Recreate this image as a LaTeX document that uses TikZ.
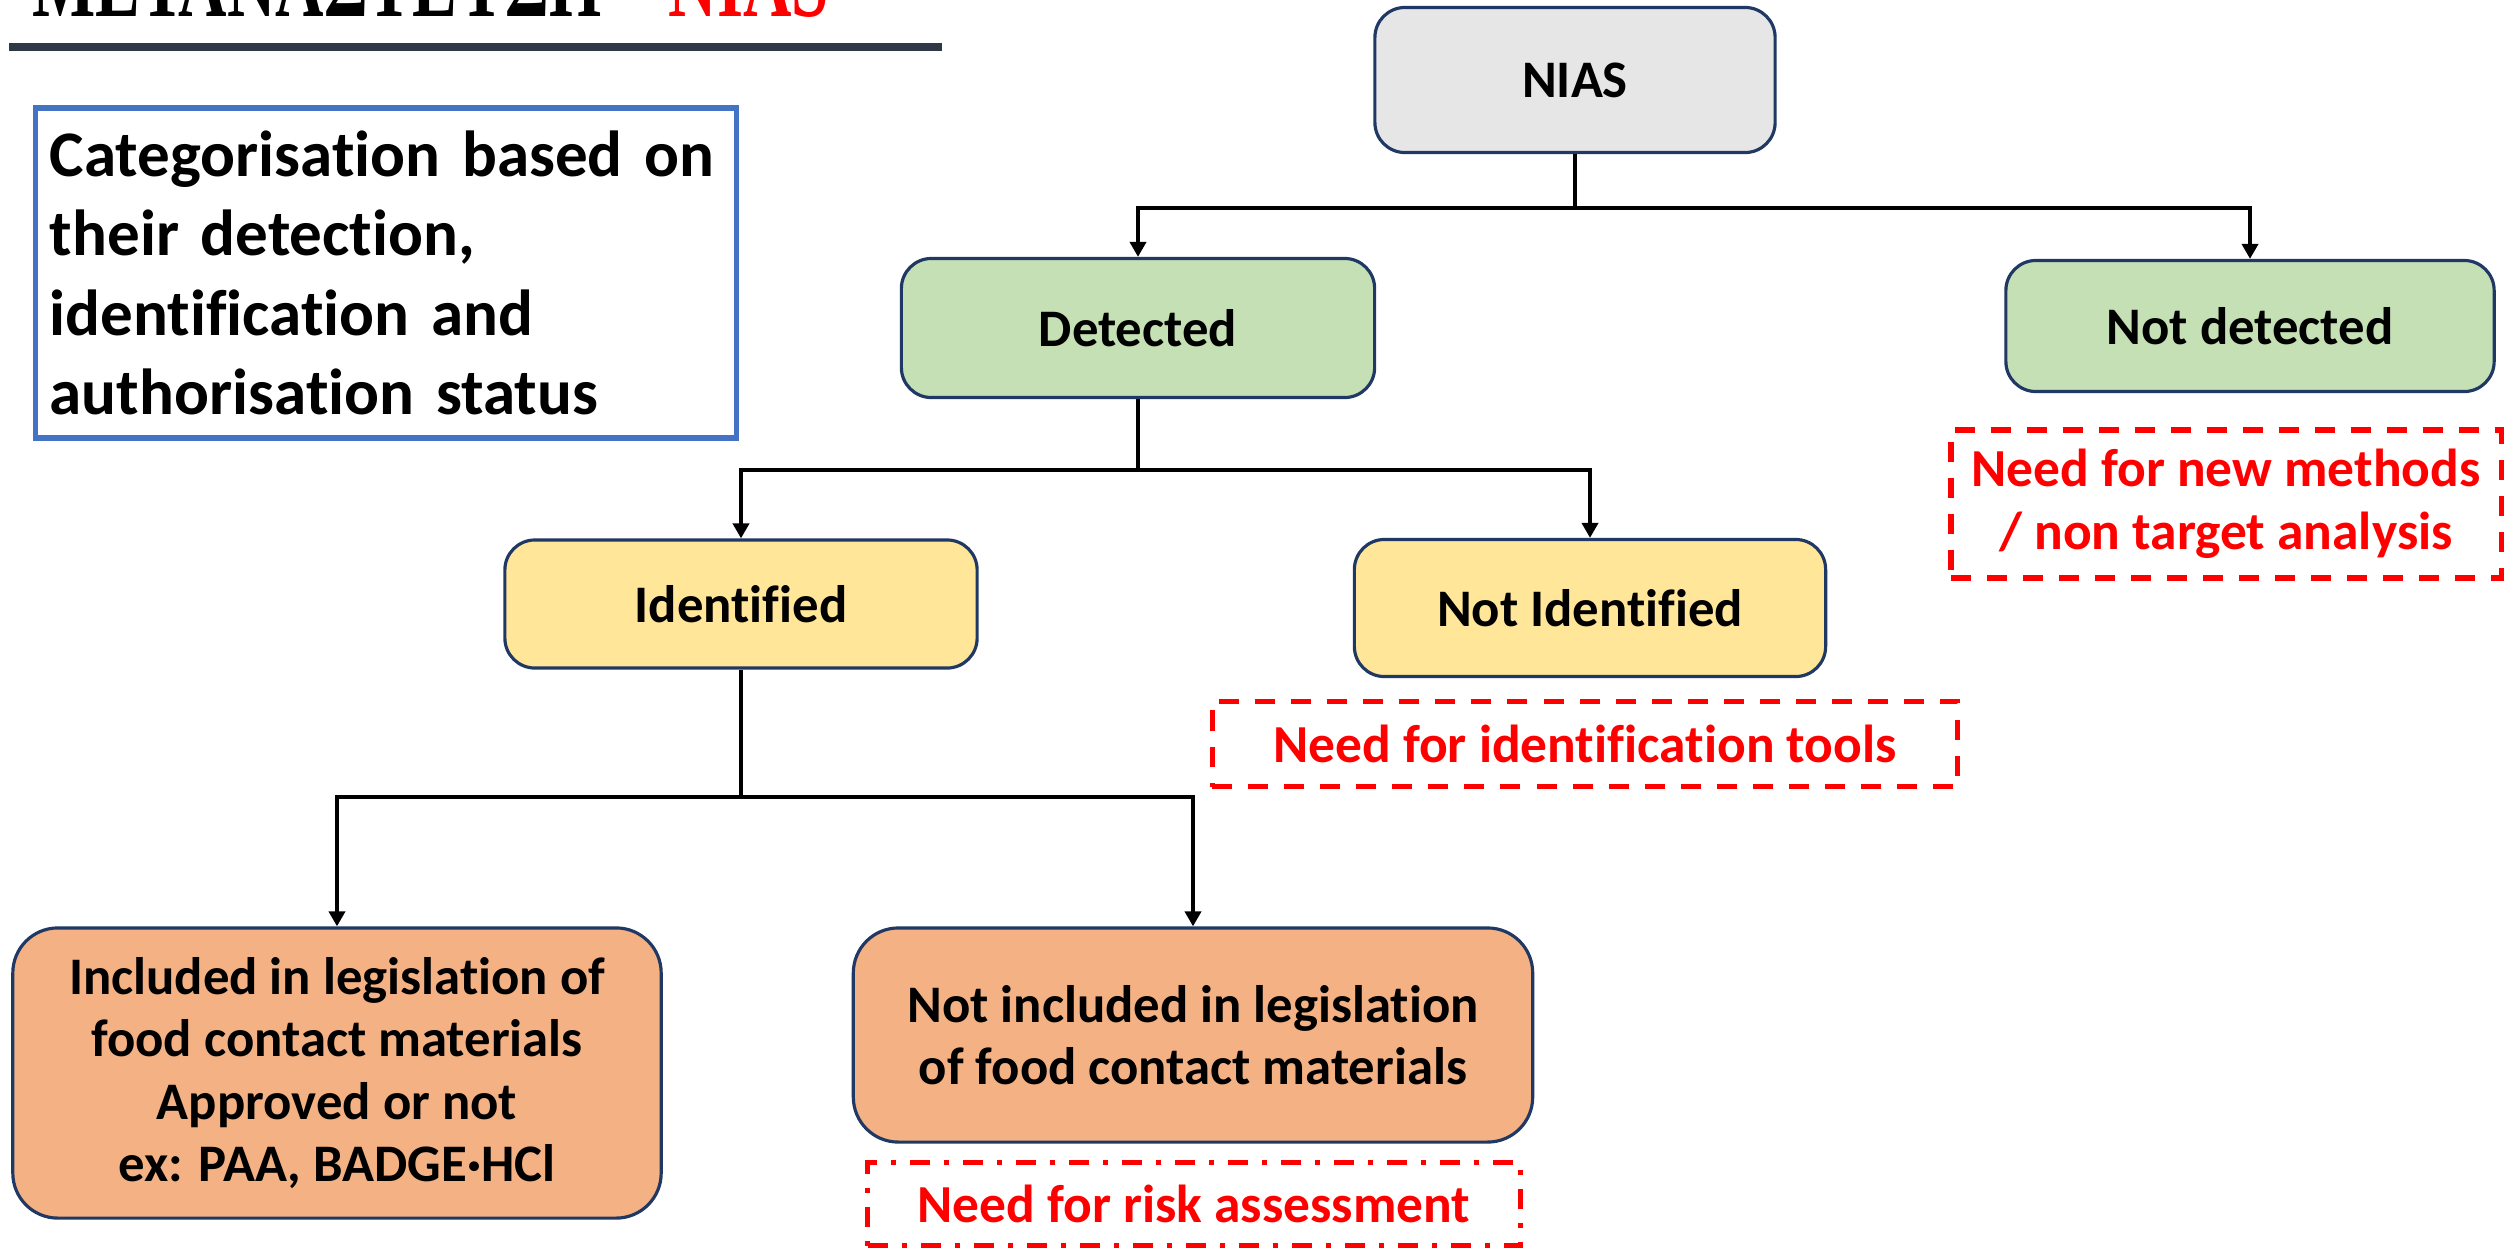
\documentclass[tikz,border=0pt]{standalone}
\usepackage{fontspec}
\setmainfont{Carlito}[Ligatures=NoCommon]
\newfontfamily\titlefont{Liberation Serif}
\usepackage{xcolor}
\usepackage{graphicx}
\usetikzlibrary{arrows.meta,positioning}
\definecolor{navy}{HTML}{1F3864}
\definecolor{greyfill}{HTML}{E6E6E6}
\definecolor{greenfill}{HTML}{C5E0B4}
\definecolor{yellowfill}{HTML}{FFE699}
\definecolor{orangefill}{HTML}{F4B183}
\definecolor{catblue}{HTML}{4472C4}
\definecolor{barcol}{HTML}{2E3847}

\begin{document}
\begin{tikzpicture}[x=0.01cm,y=-0.01cm,>={Triangle[width=0.16cm,length=0.15cm]},
box/.style={draw=navy,line width=0.9pt,rounded corners=0.3cm,align=center,inner sep=0pt,
 font=\fontsize{15}{17.8}\selectfont\bfseries},
arr/.style={->,line width=1.2pt},
need/.style={draw=red,line width=1.5pt,dash pattern=on 0.2cm off 0.16cm,text=red,align=center,inner sep=0pt,
 font=\fontsize{15.2}{18}\selectfont\bfseries}]
\clip (0,0) rectangle (2504,1248);
\node[anchor=base west,inner sep=0pt,font=\titlefont\fontsize{28.45}{30}\selectfont\bfseries] (title) at (32,16)
 {\scalebox{0.67}[1]{ΜΕΤΑΝΑΣΤΕΥΣΗ – \textcolor{red}{NIAS}}};
\fill[barcol] (9,43) rectangle (942,51);
\node[draw=catblue,line width=1.5pt,minimum width=7.01cm,minimum height=3.3cm,text width=6.72cm,align=left,inner sep=0pt,
 font=\fontsize{18.5}{22.6}\selectfont\bfseries] (cat) at (386,273)
 {Categorisation based on\\their detection,\\identification and\\authorisation status};
\node[box,fill=greyfill,minimum width=4cm,minimum height=1.45cm] (nias) at (1575,80) {NIAS};
\node[box,fill=greenfill,minimum width=4.73cm,minimum height=1.39cm] (det) at (1138,328) {Detected};
\node[box,fill=greenfill,minimum width=4.88cm,minimum height=1.31cm] (ndet) at (2250,326) {Not detected};
\node[box,fill=yellowfill,minimum width=4.72cm,minimum height=1.28cm] (ident) at (741,604) {Identified};
\node[box,fill=yellowfill,minimum width=4.71cm,minimum height=1.37cm] (nident) at (1590,608) {Not Identified};
\node[box,fill=orangefill,rounded corners=0.45cm,minimum width=6.48cm,minimum height=2.9cm] (incl) at (337,1073)
 {Included in legislation of\\food contact materials\\Approved or not\\ex: PAA, BADGE·HCl};
\node[box,fill=orangefill,rounded corners=0.45cm,minimum width=6.79cm,minimum height=2.14cm] (nincl) at (1193,1035)
 {Not included in legislation\\of food contact materials};
\node[need,minimum width=5.5cm,minimum height=1.48cm] (needmeth) at (2226,504) {Need for new methods\\/ non target analysis};
\node[need,minimum width=7.45cm,minimum height=0.85cm] (needid) at (1585,744) {Need for identification tools};
\node[need,dash pattern=on 0.2cm off 0.14cm on 0.05cm off 0.14cm,minimum width=6.52cm,minimum height=0.83cm] (needrisk) at (1194,1204)
 {Need for risk assessment};
\draw[arr] (nias.south) -- ++(0,54) -| (det.north);
\draw[arr] (nias.south) -- ++(0,54) -| (ndet.north);
\draw[arr] (det.south) -- ++(0,71) -| (ident.north);
\draw[arr] (det.south) -- ++(0,71) -| (nident.north);
\draw[arr] (ident.south) -- ++(0,127) -| (incl.north);
\draw[arr] (ident.south) -- ++(0,127) -| (nincl.north);
\end{tikzpicture}
\end{document}
